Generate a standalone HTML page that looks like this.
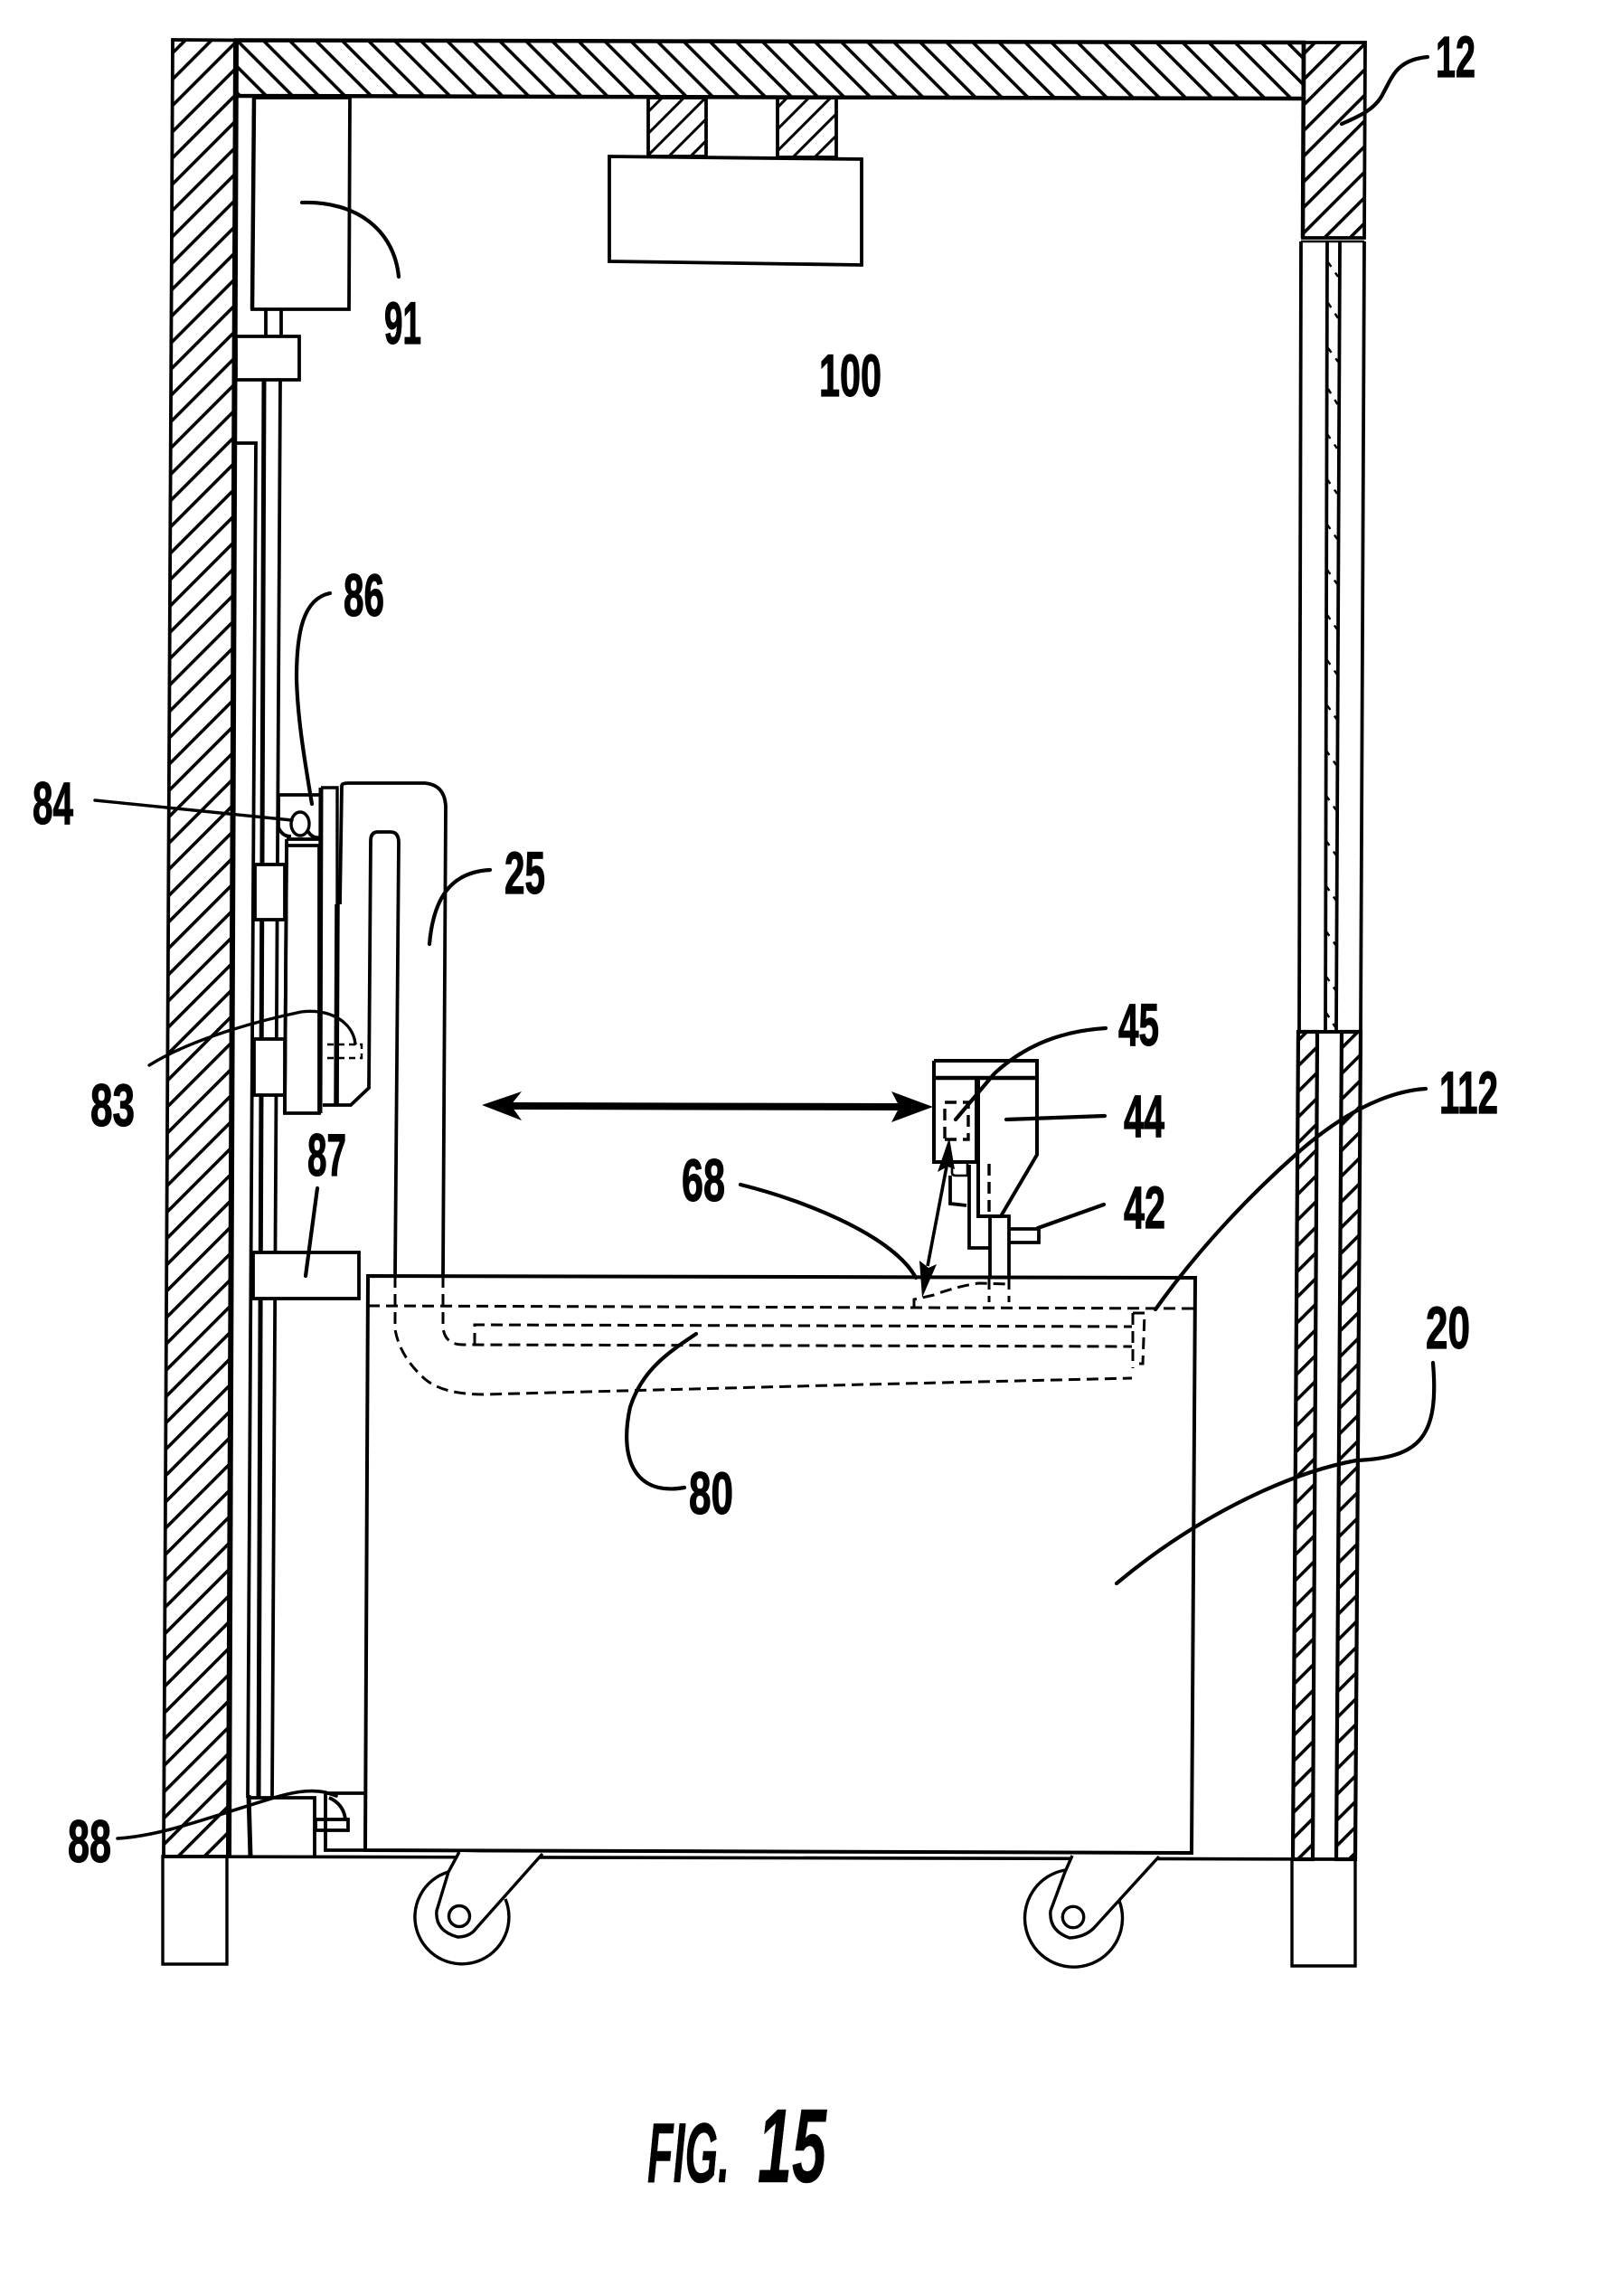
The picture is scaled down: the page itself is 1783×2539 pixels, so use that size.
<!DOCTYPE html>
<html><head><meta charset="utf-8"><title>FIG. 15</title>
<style>html,body{margin:0;padding:0;background:#fff}svg{display:block}
text{font-family:"Liberation Sans",sans-serif;font-weight:bold;fill:#000;stroke:#000;stroke-width:1.2}</style></head>
<body>
<svg width="1783" height="2539" viewBox="0 0 1783 2539" xmlns="http://www.w3.org/2000/svg">
<defs>
<pattern id="hL" width="20.5" height="20" patternUnits="userSpaceOnUse" patternTransform="translate(15,0) rotate(45)"><rect width="3.6" height="20" fill="#000"/></pattern>
<pattern id="hT" width="20.5" height="20" patternUnits="userSpaceOnUse" patternTransform="translate(12,0) rotate(-45)"><rect width="3.6" height="20" fill="#000"/></pattern>
<pattern id="hR" width="20" height="20" patternUnits="userSpaceOnUse" patternTransform="rotate(45)"><rect width="3.6" height="20" fill="#000"/></pattern>
<pattern id="hLow" width="20" height="20" patternUnits="userSpaceOnUse" patternTransform="translate(10,0) rotate(45)"><rect width="3.6" height="20" fill="#000"/></pattern>
<pattern id="hB1" width="17" height="17" patternUnits="userSpaceOnUse" patternTransform="translate(21,0) rotate(45)"><rect width="3" height="17" fill="#000"/></pattern>
<pattern id="hB2" width="17" height="17" patternUnits="userSpaceOnUse" patternTransform="translate(15,0) rotate(45)"><rect width="3" height="17" fill="#000"/></pattern>
</defs>
<rect width="1783" height="2539" fill="#fff"/>
<g fill="none" stroke="#000" stroke-width="3.8" stroke-linejoin="miter" stroke-linecap="butt">

<!-- walls -->
<polygon points="191,44 261,44.5 253,2053 181,2053" fill="url(#hL)"/>
<line x1="261" y1="44" x2="253" y2="2053" stroke-width="6"/>
<polygon points="261,44.5 1442,47 1442,109 261,106" fill="url(#hT)" stroke-width="4.5"/>
<polygon points="1442,47 1510,47 1509,263 1441,263" fill="url(#hR)"/>
<line x1="1442" y1="47" x2="1441" y2="263" stroke-width="4.5"/>
<line x1="1439" y1="267" x2="1509" y2="267" stroke-width="2.5"/>

<!-- right wall lower -->
<line x1="1439" y1="267" x2="1437" y2="1141"/>
<line x1="1509" y1="267" x2="1505" y2="1141"/>
<line x1="1468" y1="267" x2="1466" y2="1141"/>
<line x1="1482" y1="267" x2="1478" y2="1141"/>
<path stroke-width="2.4" stroke-dasharray="6 8" d="M1469 290 L1480 306 M1469 335 L1480 352 M1469 385 L1480 400 M1469 430 L1480 448 M1468 480 L1479 496 M1468 530 L1479 546 M1468 580 L1479 596 M1468 630 L1479 646 M1468 680 L1479 696 M1468 730 L1479 746 M1468 780 L1479 796 M1467 830 L1478 846 M1467 880 L1478 896 M1467 930 L1478 946 M1467 980 L1478 996 M1467 1030 L1478 1046 M1467 1080 L1478 1096 M1467 1120 L1477 1136"/>
<line x1="1436" y1="1141" x2="1505" y2="1141" stroke-width="4"/>
<polygon points="1436,1141 1457,1141 1452,2056 1430,2056" fill="url(#hLow)" stroke-width="4.2"/>
<polygon points="1484,1141 1505,1141 1499,2056 1478,2056" fill="url(#hLow)" stroke-width="4.2"/>

<!-- floor and pads -->
<line x1="181" y1="2053" x2="1499" y2="2056" stroke-width="3.6"/>
<polygon points="180,2053 251,2053 251,2172 180,2172" stroke-width="3.4"/>
<polygon points="1429,2056 1499,2056 1499,2174 1429,2174" stroke-width="3.4"/>

<!-- overhead unit -->
<rect x="717" y="108" width="64" height="65" fill="url(#hB1)"/>
<rect x="860" y="108" width="65" height="66" fill="url(#hB2)"/>
<polygon points="674,173 953,176 953,293 674,289"/>

<!-- 91 motor and rails -->
<polygon points="281,108 387,108 386,342 279,342"/>
<line x1="281" y1="108" x2="279" y2="342" stroke-width="4.5"/>
<line x1="294" y1="342" x2="294" y2="372"/>
<line x1="311" y1="342" x2="311" y2="372"/>
<polygon points="261,372 331,372 331,420 261,420" fill="#fff"/>
<path d="M262 490 L283 490 L274 1988"/>
<line x1="292" y1="420" x2="286" y2="1988" stroke-width="5"/>
<line x1="310" y1="420" x2="301" y2="1988" stroke-width="3.8"/>

<!-- carriage -->
<rect x="282" y="956" width="33" height="61" fill="#fff"/>
<rect x="281" y="1149" width="34" height="62" fill="#fff"/>
<path d="M308 879 L355 879 L355 928 L317 928 M308 879 L308 915 Q312 925 322 925"/>
<ellipse cx="332" cy="911" rx="10" ry="13" stroke-width="3.4"/>
<path d="M340 918 Q345 928 355 926"/>
<polygon points="317,935 353,935 353,1231 315,1231" fill="#fff"/>
<line x1="317" y1="928" x2="315" y2="1231"/>
<path d="M355 871 L373 871 L373 1222" stroke-width="3.4"/>
<line x1="355" y1="871" x2="354" y2="1231" stroke-width="5"/>
<line x1="373" y1="1000" x2="372" y2="1222" stroke-width="5.5"/>

<!-- arm 25 -->
<path d="M378 869 Q378 866 385 866 L470 866 Q492 868 493 892 L490 1411" fill="none"/>
<path d="M378 869 L376 1000"/>
<path d="M357 1222 L388 1222 L408 1203 L410 930 Q410 920 418 920 L432 920 Q441 920 441 932 L437 1411" fill="none"/>

<!-- 83 dashed pin -->
<path stroke-width="2.4" stroke-dasharray="7 5" d="M362 1155 L400 1155 L400 1170 L362 1170"/>

<!-- 87 -->
<rect x="280" y="1385" width="117" height="51" fill="#fff"/>

<!-- cabinet 20 -->
<polygon points="407,1411 1322,1413 1318,2049 404,2046" stroke-width="4"/>

<!-- dashed internals -->
<g stroke-width="3" stroke-dasharray="13 7">
<path d="M407 1444 L1322 1447"/>
<path d="M437 1411 L437 1470 Q442 1500 470 1525 Q490 1542 535 1542 L957 1531 L1252 1524"/>
<path d="M490 1411 L490 1468 Q492 1487 512 1487 L1252 1489"/>
<path d="M525 1487 L525 1465 L1252 1467"/>
<path d="M1253 1452 L1253 1513"/>
<path d="M1253 1452 L1266 1452 L1264 1508 L1253 1508"/>
<path d="M1011 1447 L1011 1437 L1033 1432 Q1060 1422 1083 1419 L1116 1420"/>
<path d="M1094 1413 L1094 1440"/>
<path d="M1116 1413 L1116 1440"/>
<path d="M1094 1287 L1094 1343" stroke-width="3.4"/>
<path d="M1045 1259 L1045 1219 L1071 1219 L1071 1260 L1045 1260" stroke-width="3.4"/>
</g>

<!-- tool head -->
<path d="M1033 1173 L1147 1173 L1147 1277 L1107 1345 L1082 1345 L1082 1192" stroke-width="4"/>
<path d="M1033 1173 L1033 1285 L1080 1285 L1080 1192" stroke-width="4"/>
<line x1="1033" y1="1192" x2="1147" y2="1192" stroke-width="4.4"/>
<path d="M1095 1413 L1095 1345 L1116 1345 L1116 1413" stroke-width="3.8"/>
<path d="M1072 1288 L1072 1380 L1094 1380"/>
<path d="M1053 1287 L1053 1297 Q1053 1300 1058 1300 L1070 1300 L1070 1287" stroke-width="2.6"/>
<path d="M1051 1300 L1051 1331 L1069 1333"/>
<path d="M1116 1359 L1149 1359 L1149 1374 L1116 1374"/>

<!-- motor 88 -->
<path d="M277 1988 L348 1988 L348 2053"/>
<line x1="275" y1="1985" x2="277" y2="2053" stroke-width="5"/>
<path d="M360 1983 L404 1983 M360 1983 L360 2046 L404 2046"/>
<rect x="349" y="2012" width="36" height="12"/>
<path d="M364 1988 Q380 1995 382 2012"/>

<!-- casters -->
<path d="M496 2070 A52 52 0 1 0 559 2100" stroke-width="3.4"/>
<path d="M508 2048 L496 2070 L483 2113 Q481 2135 506 2142 Q520 2142 527 2132 L600 2050" fill="#fff" stroke-width="3.4"/>
<circle cx="508" cy="2119" r="11.5" stroke-width="3.4"/>
<path d="M1178 2068 A54 54 0 1 0 1238 2102" stroke-width="3.4"/>
<path d="M1186 2052 L1178 2070 L1162 2113 Q1160 2135 1183 2143 Q1200 2142 1210 2132 L1282 2053" fill="#fff" stroke-width="3.4"/>
<circle cx="1187" cy="2120" r="11.7" stroke-width="3.4"/>

<!-- arrows -->
<line x1="565" y1="1223" x2="995" y2="1224" stroke-width="8"/>
<line x1="1047" y1="1290" x2="1026" y2="1400" stroke-width="3.6"/>
</g>
<g fill="#000" stroke="none">
<polygon points="533,1222 577,1207 565,1222 577,1239"/>
<polygon points="1032,1224 986,1207 995,1224 986,1241"/>
<polygon points="1050,1258 1037,1296 1048,1290 1056,1293"/>
<polygon points="1020,1435 1017,1394 1027,1402 1036,1398"/>
</g>

<!-- leaders -->
<g fill="none" stroke="#000" stroke-width="4.2" stroke-linecap="round">
<path d="M1579 63 C1545 66 1540 85 1530 103 C1522 120 1505 128 1484 137"/>
<path d="M334 224 C395 222 436 255 441 306"/>
<path d="M365 656 C335 662 328 700 328 750 C329 790 335 830 345 889"/>
<path d="M105 885 L323 907" stroke-width="3.4"/>
<path d="M165 1178 C210 1150 280 1130 333 1119 C365 1115 390 1130 393 1154" stroke-width="3.4"/>
<path d="M542 962 C505 964 480 985 475 1044"/>
<path d="M351 1314 L338 1411"/>
<path d="M1223 1137 C1175 1140 1135 1155 1100 1187 L1057 1238"/>
<path d="M1222 1234 L1113 1238"/>
<path d="M1221 1332 L1148 1358"/>
<path d="M819 1310 C900 1330 990 1370 1013 1413"/>
<path d="M1577 1204 C1530 1207 1480 1235 1433 1277 C1390 1315 1330 1375 1278 1448"/>
<path d="M757 1645 C700 1655 685 1610 697 1556 C710 1515 740 1495 770 1475"/>
<path d="M1585 1507 C1592 1590 1570 1612 1500 1615 C1420 1630 1320 1680 1235 1751"/>
<path d="M130 2033 C180 2030 230 2010 303 1988 C320 1983 340 1978 360 1982 L372 1986" stroke-width="3.6"/>
</g>

<!-- labels -->
<text x="1588" y="85" font-size="64" textLength="44" lengthAdjust="spacingAndGlyphs">12</text>
<text x="425" y="380" font-size="66" textLength="41" lengthAdjust="spacingAndGlyphs">91</text>
<text x="906" y="438" font-size="66" textLength="69" lengthAdjust="spacingAndGlyphs">100</text>
<text x="380" y="681" font-size="66" textLength="45" lengthAdjust="spacingAndGlyphs">86</text>
<text x="36" y="911" font-size="66" textLength="45" lengthAdjust="spacingAndGlyphs">84</text>
<text x="558" y="988" font-size="66" textLength="45" lengthAdjust="spacingAndGlyphs">25</text>
<text x="100" y="1245" font-size="66" textLength="49" lengthAdjust="spacingAndGlyphs">83</text>
<text x="340" y="1300" font-size="66" textLength="43" lengthAdjust="spacingAndGlyphs">87</text>
<text x="1237" y="1156" font-size="66" textLength="45" lengthAdjust="spacingAndGlyphs">45</text>
<text x="1243" y="1257" font-size="66" textLength="45" lengthAdjust="spacingAndGlyphs">44</text>
<text x="1243" y="1358" font-size="66" textLength="46" lengthAdjust="spacingAndGlyphs">42</text>
<text x="1592" y="1231" font-size="66" textLength="65" lengthAdjust="spacingAndGlyphs">112</text>
<text x="754" y="1328" font-size="66" textLength="48" lengthAdjust="spacingAndGlyphs">68</text>
<text x="762" y="1674" font-size="66" textLength="49" lengthAdjust="spacingAndGlyphs">80</text>
<text x="1577" y="1491" font-size="66" textLength="49" lengthAdjust="spacingAndGlyphs">20</text>
<text x="75" y="2059" font-size="66" textLength="48" lengthAdjust="spacingAndGlyphs">88</text>
<text x="716" y="2413" font-size="94" font-style="italic" textLength="91" lengthAdjust="spacingAndGlyphs" style="stroke-width:0.6">FIG.</text>
<text x="838" y="2413" font-size="116" font-style="italic" textLength="76" lengthAdjust="spacingAndGlyphs" style="stroke-width:0.5">15</text>
</svg>
</body></html>
